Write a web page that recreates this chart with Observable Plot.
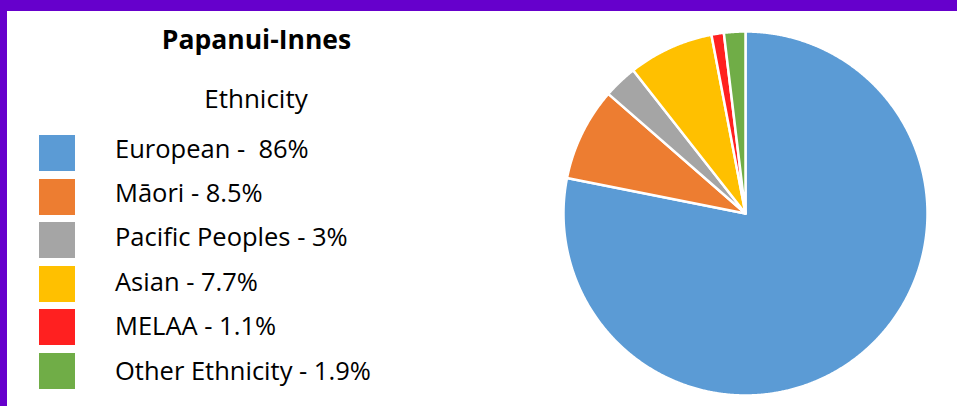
<!DOCTYPE html>
<html><head><meta charset="utf-8">
<script src="https://cdn.jsdelivr.net/npm/d3@7"></script>
<script src="https://cdn.jsdelivr.net/npm/@observablehq/plot@0.6"></script>
<style>
body{margin:0;background:#fff;}
#frame{position:relative;width:957px;height:406px;overflow:hidden;background:#fff;font-family:"Open Sans", "Noto Sans", sans-serif;color:#000;}
#topbar{position:absolute;left:0;top:0;width:957px;height:11px;background:#6600CC;}
#leftbar{position:absolute;left:0;top:0;width:7px;height:406px;background:#6600CC;}
.t{position:absolute;white-space:pre;line-height:1;}
.sw{position:absolute;}
#pie{position:absolute;left:555px;top:23px;}
</style></head><body>
<div id="frame">
  <div id="topbar"></div><div id="leftbar"></div>
  <div id="left"></div>
  <div id="pie"></div>
</div>
<script>
const title = "Papanui-Innes";
const subtitle = "Ethnicity";
const categories = ["European", "Māori", "Pacific Peoples", "Asian", "MELAA", "Other Ethnicity"];
// slice sizes
const sliceValues = [78.2, 8.3, 3, 7.6, 1.1, 1.9];
// percentages as printed in the legend
const valueLabels = ["86%", "8.5%", "3%", "7.7%", "1.1%", "1.9%"];
const colors = ["#5B9BD5", "#ED7D31", "#A5A5A5", "#FFC000", "#FF2020", "#70AD47"];

const left = document.getElementById("left");
function addText(txt, fs, baseline, opts = {}) {
  const d = document.createElement("div");
  d.className = "t";
  d.textContent = txt;
  d.style.fontSize = fs + "px";
  d.style.top = (baseline - 0.888 * fs) + "px";
  if (opts.center != null) {
    d.style.left = (opts.center - 300) + "px";
    d.style.width = "600px";
    d.style.textAlign = "center";
  } else {
    d.style.left = opts.x + "px";
  }
  if (opts.bold) d.style.fontWeight = "bold";
  left.appendChild(d);
}
addText(title, 26.5, 50, {center: 256.5, bold: true});
addText(subtitle, 26, 108, {center: 256});
categories.forEach((c, i) => {
  const cy = 153 + i * 43.5;
  const s = document.createElement("div");
  s.className = "sw";
  s.style.left = "39px"; s.style.top = (cy - 18) + "px";
  s.style.width = "36px"; s.style.height = "36px";
  s.style.background = colors[i];
  left.appendChild(s);
  const sep = i === 0 ? " -  " : " - ";
  addText(c + sep + valueLabels[i], 25.5, 158.3 + i * 44.4, {x: 115});
});

// Pie slices from d3.pie, drawn as filled lines in Plot
const table = categories.map((c, i) => ({name: c, value: sliceValues[i]}));
const arcs = d3.pie().sort(null).value(d => d.value)(table);
const pts = [];
for (const a of arcs) {
  pts.push({name: a.data.name, x: 0, y: 0});
  const n = Math.max(4, Math.ceil((a.endAngle - a.startAngle) / 0.005));
  for (let k = 0; k <= n; k++) {
    const t = a.startAngle + (a.endAngle - a.startAngle) * k / n;
    pts.push({name: a.data.name, x: Math.sin(t), y: Math.cos(t)});
  }
  pts.push({name: a.data.name, x: 0, y: 0});
}
const chart = Plot.plot({
  width: 380, height: 380, margin: 0,
  x: {domain: [-1, 1], range: [8, 372], axis: null},
  y: {domain: [-1, 1], range: [372, 8], axis: null},
  color: {domain: categories, range: colors},
  marks: [
    Plot.line(pts, {x: "x", y: "y", z: "name", fill: "name", stroke: "white", strokeWidth: 2.5, strokeLinejoin: "round", curve: "linear"})
  ]
});
document.getElementById("pie").appendChild(chart);
</script>
</body></html>
